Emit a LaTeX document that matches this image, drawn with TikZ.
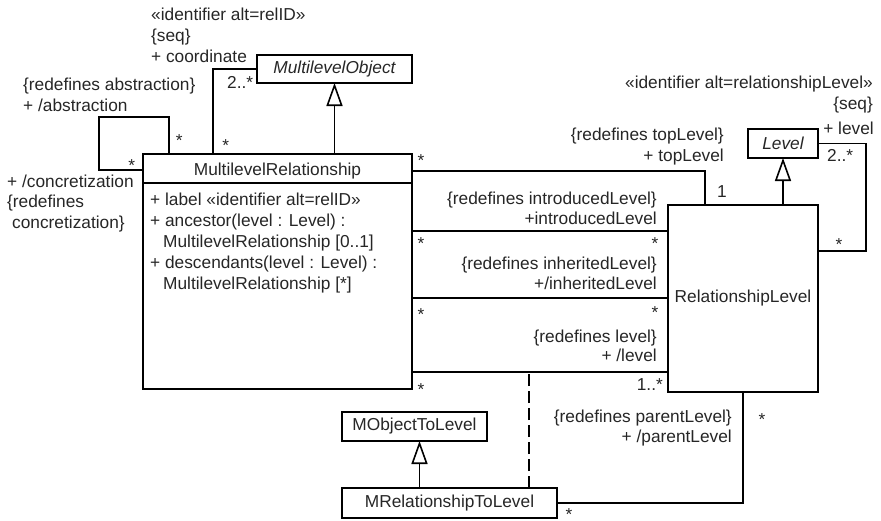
\documentclass[tikz,border=0pt]{standalone}
\usepackage{fontspec}
\setmainfont{Liberation Sans}
\usetikzlibrary{arrows.meta}
\begin{document}
\begin{tikzpicture}[x=1pt,y=-1pt,
  every node/.style={font=\fontsize{17.3}{20.7}\selectfont, text=black!85},
  box/.style={draw=black, line width=1.6pt, inner sep=0pt, outer sep=0pt, anchor=north west},
  assoc/.style={draw=black, line width=1.6pt},
  inherit/.style={assoc, -{Triangle[open, width=16pt, length=23pt]}},
  lw/.style={anchor=base west, inner sep=0pt},
  le/.style={anchor=base east, inner sep=0pt},
  lc/.style={anchor=base, inner sep=0pt}]
\useasboundingbox (0,0) rectangle (881,520);

% classes
\node[box, minimum width=155pt, minimum height=28pt] (mo) at (257,55) {\itshape MultilevelObject};
\node[box, minimum width=70pt, minimum height=29pt] (lv) at (748,129) {\itshape Level};
\node[box, minimum width=269pt, minimum height=235pt] (mr) at (143,154) {};
\node[box, minimum width=150pt, minimum height=187pt] (rl) at (668,205) {RelationshipLevel};
\node[box, minimum width=145pt, minimum height=29pt] (mol) at (342,412) {MObjectToLevel};
\node[box, minimum width=215pt, minimum height=30pt] (mrl) at (342,488) {MRelationshipToLevel};

% MultilevelRelationship: name compartment and members
\draw[assoc] ([yshift=-29pt]mr.north west) -- ([yshift=-29pt]mr.north east);
\node[lc] (mrname) at ([yshift=-21pt]mr.north) {MultilevelRelationship};
\node[lw] (m1) at (150,205) {+ label «identifier alt=relID»};
\node[lw] (m2) at (150,226) {+ ancestor(level : Level) :};
\node[lw] (m3) at (163,247) {MultilevelRelationship [0..1]};
\node[lw] (m4) at (150,268) {+ descendants(level : Level) :};
\node[lw] (m5) at (163,289) {MultilevelRelationship [*]};

% attachment points
\coordinate (sa) at ([xshift=26pt]mr.north west);
\coordinate (sb) at ([yshift=-16pt]mr.north west);
\coordinate (ca) at ([xshift=70pt]mr.north west);
\coordinate (t1) at ([yshift=-17pt]mr.north east);
\coordinate (t2) at ([xshift=-38pt]rl.north);
\coordinate (i1) at ([yshift=-77pt]mr.north east);
\coordinate (h1) at ([yshift=-144pt]mr.north east);
\coordinate (v1) at ([yshift=-218pt]mr.north east);
\coordinate (l2) at ([yshift=-46pt]rl.north east);
\coordinate (d1) at ([xshift=79.5pt]mrl.north);
\coordinate (g1) at ([xshift=5pt]mol.south);

% generalizations
\draw[inherit] (mo.south |- mr.north) -- (mo.south);
\draw[inherit] (lv.south |- rl.north) -- (lv.south);
\draw[inherit] (g1 |- mrl.north) -- (g1);

% associations
\draw[assoc] (sa) -- ++(0,-37) -- ++(-70,0) |- (sb);
\draw[assoc] (ca) |- (mo.west);
\draw[assoc] (t1) -| (t2);
\draw[assoc] (i1) -- (i1 -| rl.west);
\draw[assoc] (h1) -- (h1 -| rl.west);
\draw[assoc] (v1) -- (v1 -| rl.west);
\draw[assoc] (lv.east) -- ++(48,0) |- (l2);
\draw[assoc] (rl.south) |- (mrl.east);
\draw[assoc, dash pattern=on 12pt off 5pt] (d1) -- (d1 |- v1);

% role names and multiplicities
\node[lw] (c1) at (151,20) {«identifier alt=relID»};
\node[lw] (c2) at (151,41) {\{seq\}};
\node[lw] (c3) at (151,62) {+ coordinate};
\node[lw] (c4) at (227,88) {2..*};
\node[lc] (c5) at (225.7,151) {*};
\node[lw] (s1) at (23,90) {\{redefines abstraction\}};
\node[lw] (s2) at (23,111) {+ /abstraction};
\node[lc] (s3) at (179.3,146.5) {*};
\node[lc] (s4) at (131.7,171.5) {*};
\node[lw] (s5) at (7,187) {+ /concretization};
\node[lw] (s6) at (7,207) {\{redefines};
\node[lw] (s7) at (12,228) {concretization\}};

\node[lc] (r1) at (421,166) {*};
\node[le] (r2) at (724,140) {\{redefines topLevel\}};
\node[le] (r3) at (724,161) {+ topLevel};
\node[lc] (r4) at (722,197) {1};
\node[le] (r5) at (657,204) {\{redefines introducedLevel\}};
\node[le] (r6) at (657,224) {+introducedLevel};
\node[lc] (r7) at (421,249) {*};
\node[lc] (r8) at (655,249) {*};
\node[le] (r9) at (657,269) {\{redefines inheritedLevel\}};
\node[le] (r10) at (657,289) {+/inheritedLevel};
\node[lc] (r11) at (421,320) {*};
\node[lc] (r12) at (655,318) {*};
\node[le] (r13) at (657,342) {\{redefines level\}};
\node[le] (r14) at (657,361) {+ /level};
\node[lc] (r15) at (421,395) {*};
\node[le] (r16) at (663,390) {1..*};
\node[le] (p1) at (732,422) {\{redefines parentLevel\}};
\node[le] (p2) at (732,442) {+ /parentLevel};
\node[lc] (p3) at (762,425) {*};
\node[lc] (p4) at (569,520) {*};
\node[le] (q1) at (873,88) {«identifier alt=relationshipLevel»};
\node[le] (q2) at (873,109) {\{seq\}};
\node[le] (q3) at (874,134) {+ level};
\node[lw] (q4) at (827,161) {2..*};
\node[lc] (q5) at (839,250) {*};
\end{tikzpicture}
\end{document}
